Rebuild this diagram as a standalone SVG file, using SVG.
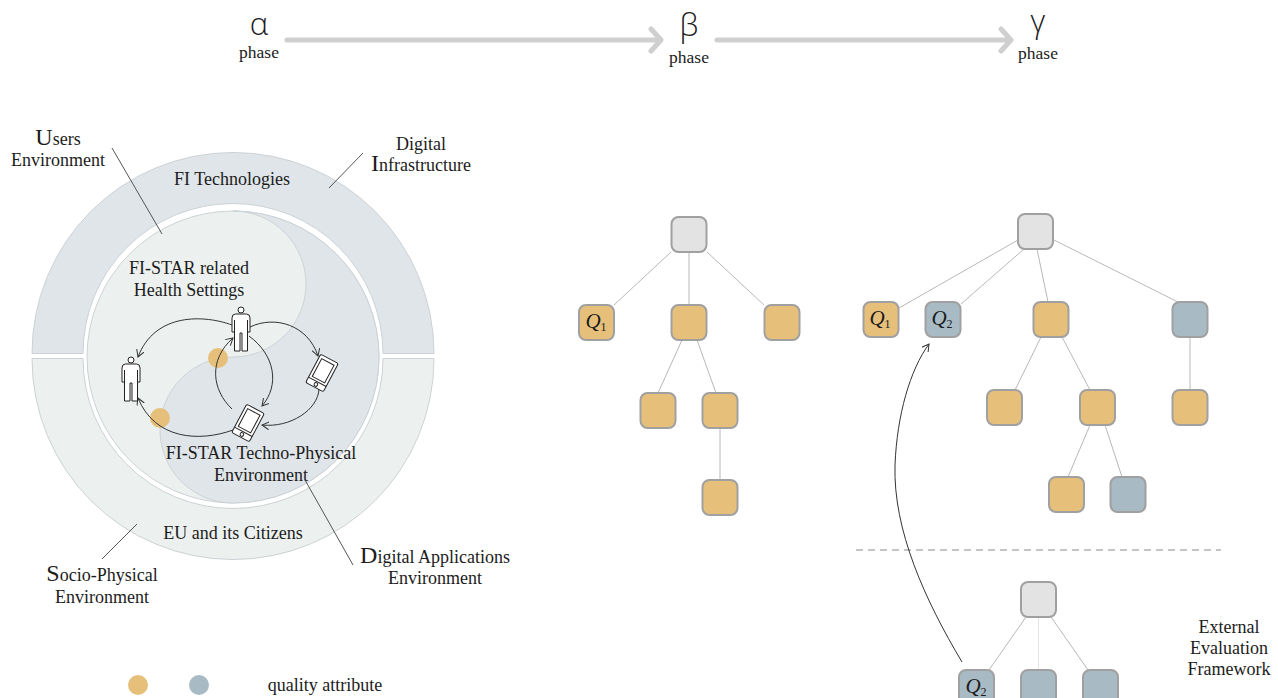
<svg xmlns="http://www.w3.org/2000/svg" width="1278" height="698" viewBox="0 0 1278 698">
<style>
text{font-family:"Liberation Serif","Times New Roman",serif;fill:#1c1c1c;text-anchor:middle;font-size:18px}
.cap{font-size:24px}
.ph{font-size:17.500px}
.gr{font-family:"Open Sans","Liberation Sans",sans-serif;font-weight:300;font-size:31px}
.q{font-size:21px;font-style:italic}
.sub{font-size:12px;font-style:normal}
.dark{fill:#dfe5e9;stroke:#ccd2d5;stroke-width:1}
.light{fill:#ecf1ef;stroke:#ccd2d5;stroke-width:1}
.n{stroke:#a0a0a0;stroke-width:2;width:35px;height:35px;rx:7px}
.o{fill:#e6c07b}.b{fill:#a8bac4}.g{fill:#e3e3e3}
.e{stroke:#b8b8b8;stroke-width:1;fill:none}
.lead{stroke:#555;stroke-width:1;fill:none}
.loop{stroke:#333;stroke-width:1;fill:none;marker-end:url(#oa)}
.big{stroke:#cfcfcf;stroke-width:5;fill:none;stroke-linecap:round;stroke-linejoin:round}
.ic{fill:#fff;stroke:#222;stroke-width:1}
</style>
<defs>
<marker id="oa" markerWidth="9" markerHeight="9" refX="7" refY="4" orient="auto" markerUnits="userSpaceOnUse"><path d="M0,0L7,4L0,8" fill="none" stroke="#333" stroke-width="1"/></marker>
<g id="person">
<circle cx="0" cy="-19" r="3"/>
<path d="M-5.500,-15H5.500Q9,-15 9,-11V3H6.500V-9V22H1V4H-1V22H-6.500V-9V3H-9V-11Q-9,-15 -5.500,-15Z"/>
</g>
<g id="tablet">
<rect x="-10" y="-16" width="20" height="32" rx="2"/>
<rect x="-7" y="-12.500" width="14" height="20"/>
<path d="M-10,10H10"/>
<circle cx="0" cy="13" r="1.800"/>
</g>
</defs>

<g id="phase-alpha"><text class="gr" x="259" y="35">α</text><text class="ph" x="259" y="58">phase</text></g>
<g id="phase-beta"><text class="gr" x="689" y="36">β</text><text class="ph" x="689" y="63">phase</text></g>
<g id="phase-gamma"><text class="gr" x="1038" y="32">γ</text><text class="ph" x="1038" y="59">phase</text></g>

<g id="connectors">
<path class="big" d="M287,40H660M651,29L661,40L651,51"/>
<path class="big" d="M717,40H1010M1001,29L1011,40L1001,51"/>
<path class="e" d="M671,252L614,305M689,252V305M707,252L764,305M682,340L658,393M697,340L716,393M720,428V480"/>
<path class="e" d="M1018,240L899,308M1024,249L961,304M1037,249L1048,302M1054,240L1178,302M1190,337V390M1041,337L1015,390M1062,337L1090,390M1090,425L1068,477M1105,425L1122,477"/>
<path class="e" d="M1026,617L989,670M1051,617L1088,670"/>
<path d="M1038.500,617V670" fill="none" stroke="#e4e4e4" stroke-width="1"/>
<path d="M856,550H1221" fill="none" stroke="#8a8a8a" stroke-width="1.200" stroke-dasharray="7 5"/>
<path d="M962,662C925,600 893,530 895,465C897,415 910,370 929,344" fill="none" stroke="#333" stroke-width="1" marker-end="url(#oa)"/>
</g>

<g id="ring-top"><path class="dark" d="M32,353.500A201,201 0 0 1 434,353.500H383A150,150 0 0 0 83,353.500Z"/><text x="232" y="185">FI Technologies</text></g>
<g id="ring-bottom"><path class="light" d="M32,358.500A201,201 0 0 0 434,358.500H383A150,150 0 0 1 83,358.500Z"/><text x="233" y="539">EU and its Citizens</text></g>
<g id="inner-circle">
<circle class="light" cx="233" cy="357" r="146"/>
<path class="dark" d="M233,211A73,73 0 0 1 233,357A73,73 0 0 0 233,503A146,146 0 0 0 233,211Z"/>
<text x="189" y="274">FI-STAR related</text><text x="189" y="296">Health Settings</text>
<text x="261" y="459">FI-STAR Techno-Physical</text><text x="261" y="481">Environment</text>
</g>
<g id="quality-dots"><circle class="o" cx="218" cy="358" r="10"/><circle class="o" cx="160" cy="418" r="10"/></g>
<g id="loops">
<path class="loop" d="M232,325C205,315 155,312 138,357"/>
<path class="loop" d="M250,327C275,315 308,325 318,356"/>
<path class="loop" d="M249,336C275,355 280,385 262,406"/>
<path class="loop" d="M232,409C212,390 208,360 233,338"/>
<path class="loop" d="M319,389C318,410 290,428 262,425"/>
<path class="loop" d="M233,430C200,442 155,440 138,398"/>
</g>
<g id="person-1" class="ic"><use href="#person" transform="translate(241,329)"/></g>
<g id="person-2" class="ic"><use href="#person" transform="translate(131,379)"/></g>
<g id="tablet-1" class="ic"><use href="#tablet" transform="translate(322,373) rotate(28)"/></g>
<g id="tablet-2" class="ic"><use href="#tablet" transform="translate(248,423) rotate(28)"/></g>

<g id="leaders">
<path class="lead" d="M112,148L162,234M363,153L329,188M102,559L137,524M353,565L305,480"/>
</g>
<g id="label-users"><text x="58" y="145"><tspan class="cap">U</tspan>sers</text><text x="58" y="166">Environment</text></g>
<g id="label-infra"><text x="421" y="150">Digital</text><text x="421" y="171"><tspan class="cap">I</tspan>nfrastructure</text></g>
<g id="label-socio"><text x="102" y="581"><tspan class="cap">S</tspan>ocio-Physical</text><text x="102" y="603">Environment</text></g>
<g id="label-apps"><text x="435" y="563"><tspan class="cap">D</tspan>igital Applications</text><text x="435" y="584">Environment</text></g>

<g id="beta-root"><rect class="n g" x="671.500" y="217"/></g>
<g id="beta-q1"><rect class="n o" x="579" y="305"/><text class="q" x="596" y="328">Q<tspan class="sub" dy="3">1</tspan></text></g>
<g id="beta-2"><rect class="n o" x="671.500" y="305"/></g>
<g id="beta-3"><rect class="n o" x="764.500" y="305"/></g>
<g id="beta-4"><rect class="n o" x="640.500" y="393"/></g>
<g id="beta-5"><rect class="n o" x="702.500" y="393"/></g>
<g id="beta-6"><rect class="n o" x="702.500" y="480"/></g>

<g id="gamma-root"><rect class="n g" x="1018" y="214"/></g>
<g id="gamma-q1"><rect class="n o" x="863.500" y="302"/><text class="q" x="880" y="325">Q<tspan class="sub" dy="3">1</tspan></text></g>
<g id="gamma-q2"><rect class="n b" x="925.500" y="302"/><text class="q" x="942" y="325">Q<tspan class="sub" dy="3">2</tspan></text></g>
<g id="gamma-3"><rect class="n o" x="1033.500" y="302"/></g>
<g id="gamma-4"><rect class="n b" x="1172.500" y="302"/></g>
<g id="gamma-5"><rect class="n o" x="987" y="390"/></g>
<g id="gamma-6"><rect class="n o" x="1080" y="390"/></g>
<g id="gamma-7"><rect class="n o" x="1172.500" y="390"/></g>
<g id="gamma-8"><rect class="n o" x="1049" y="477"/></g>
<g id="gamma-9"><rect class="n b" x="1110.500" y="477"/></g>

<g id="ext-root"><rect class="n g" x="1021" y="582"/></g>
<g id="ext-q2"><rect class="n b" x="959" y="670"/><text class="q" x="976" y="693">Q<tspan class="sub" dy="3">2</tspan></text></g>
<g id="ext-2"><rect class="n b" x="1021" y="670"/></g>
<g id="ext-3"><rect class="n b" x="1083" y="670"/></g>
<g id="ext-label"><text x="1229" y="633">External</text><text x="1229" y="654">Evaluation</text><text x="1229" y="675">Framework</text></g>

<g id="legend"><circle class="o" cx="138" cy="685" r="10"/><circle class="b" cx="199" cy="685" r="10"/><text x="325" y="691">quality attribute</text></g>
</svg>
